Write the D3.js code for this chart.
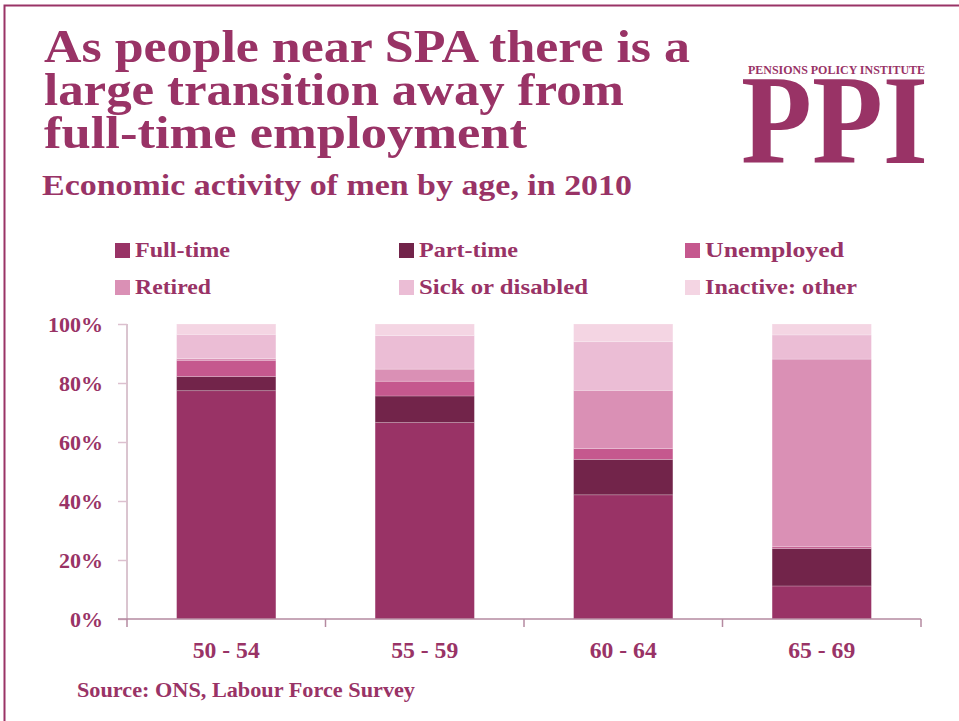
<!DOCTYPE html>
<html>
<head>
<meta charset="utf-8">
<script src="https://cdn.jsdelivr.net/npm/d3@7"></script>
<style>
  body { margin: 0; background: #fff; }
  svg { display: block; }
  text { font-family: "Liberation Serif", "DejaVu Serif", serif; font-weight: bold; fill: #993366; }
</style>
</head>
<body>
<svg id="chart" width="959" height="721"></svg>
<script>
// age groups and the share of men in each activity (percent)
const ages = ["50 - 54", "55 - 59", "60 - 64", "65 - 69"];
const series = ["Full-time", "Part-time", "Unemployed", "Retired", "Sick or disabled", "Inactive: other"];
const fullTime = [77.4, 66.6, 42.1, 11.2];
const partTime = [4.8, 9.0, 12.0, 12.7];
const unemployed = [5.5, 5.0, 3.7, 0.6];
const retired = [0.6, 4.1, 19.7, 63.6];
const sick = [8.2, 11.4, 16.5, 8.2];
const inactiveOther = [3.5, 3.9, 6.0, 3.7];
const yTicks = [0, 20, 40, 60, 80, 100];
const colors = ["#993366", "#72244a", "#c5588e", "#da90b5", "#ebbdd5", "#f4d5e3"];

const valueRows = [fullTime, partTime, unemployed, retired, sick, inactiveOther];
const table = ages.map((a, i) => {
  const row = { age: a };
  series.forEach((s, j) => row[s] = valueRows[j][i]);
  return row;
});

const svg = d3.select("#chart");
const margin = { top: 324, left: 127, right: 38, bottom: 102 };
const width = 959 - margin.left - margin.right;
const height = 721 - margin.top - margin.bottom;

// frame
svg.append("rect")
  .attr("x", 4.5).attr("y", 5.5)
  .attr("width", 1000).attr("height", 1000)
  .attr("fill", "none").attr("stroke", "#993366").attr("stroke-width", 2);

// titles
const titleLines = ["As people near SPA there is a", "large transition away from", "full-time employment"];
const titleWidths = [646, 580, 483];
titleLines.forEach((t, i) => {
  svg.append("text")
    .attr("x", 44).attr("y", 62 + i * 43)
    .attr("textLength", titleWidths[i]).attr("lengthAdjust", "spacingAndGlyphs")
    .style("font-size", "46px")
    .text(t);
});
svg.append("text")
  .attr("x", 42).attr("y", 195)
  .attr("textLength", 590).attr("lengthAdjust", "spacingAndGlyphs")
  .style("font-size", "30px")
  .text("Economic activity of men by age, in 2010");

// logo
svg.append("text")
  .attr("x", 748).attr("y", 74)
  .attr("textLength", 177).attr("lengthAdjust", "spacingAndGlyphs")
  .style("font-size", "13px")
  .text("PENSIONS POLICY INSTITUTE");
svg.append("text")
  .attr("x", 741).attr("y", 163)
  .attr("textLength", 187).attr("lengthAdjust", "spacingAndGlyphs")
  .style("font-size", "128px")
  .text("PPI");

// legend
const legendCols = [115, 399, 685];
const legendWidths = [95, 99, 139, 76, 169, 152];
const legend = svg.append("g");
series.forEach((s, i) => {
  const col = i % 3, row = Math.floor(i / 3);
  const lx = legendCols[col];
  const base = 257 + row * 37;
  legend.append("rect")
    .attr("x", lx).attr("y", base - 14)
    .attr("width", 15).attr("height", 15)
    .attr("fill", colors[i]);
  legend.append("text")
    .attr("x", lx + 20).attr("y", base)
    .attr("textLength", legendWidths[i]).attr("lengthAdjust", "spacingAndGlyphs")
    .style("font-size", "22px")
    .text(s);
});

const g = svg.append("g").attr("transform", `translate(${margin.left},${margin.top})`);

const x = d3.scaleBand().domain(ages).range([0, width]).paddingInner(0.5).paddingOuter(0.25);
const y = d3.scaleLinear().domain([0, 100]).range([height, 0]);

const layers = d3.stack().keys(series)(table);

g.selectAll("g.layer")
  .data(layers)
  .join("g")
  .attr("class", "layer")
  .attr("fill", (d, i) => colors[i])
  .selectAll("rect")
  .data(d => d)
  .join("rect")
  .attr("x", d => x(d.data.age))
  .attr("width", x.bandwidth())
  .attr("y", d => y(d[1]))
  .attr("height", d => y(d[0]) - y(d[1]))
  .attr("stroke", "#fff")
  .attr("stroke-opacity", 0.25)
  .attr("stroke-width", 0.8);

const axisColor = "#b58aa0";

// y axis
const yAxis = g.append("g")
  .call(d3.axisLeft(y).tickValues(yTicks).tickSize(9).tickFormat(d => d + "%"));
yAxis.select(".domain").attr("stroke", axisColor).attr("d", `M0,0V${height}`);
yAxis.selectAll(".tick line").attr("stroke", "#dcc0cf").attr("stroke-width", 1.5);
yAxis.selectAll(".tick text")
  .attr("x", -24)
  .style("font-size", "22px")
  .style("font-family", "Liberation Serif, serif")
  .attr("fill", "#993366");

// x axis
const xAxis = g.append("g").attr("transform", `translate(0,${height})`)
  .call(d3.axisBottom(x).tickSize(0).tickPadding(23));
xAxis.select(".domain").attr("stroke", axisColor).attr("stroke-width", 1.5).attr("d", `M-9,0H${width}`);
xAxis.selectAll(".tick text")
  .attr("textLength", 67).attr("lengthAdjust", "spacingAndGlyphs")
  .style("font-size", "23px")
  .style("font-family", "Liberation Serif, serif")
  .attr("fill", "#993366");
g.append("g").attr("transform", `translate(0,${height})`)
  .selectAll("line")
  .data(d3.range(ages.length + 1))
  .join("line")
  .attr("x1", i => i * x.step())
  .attr("x2", i => i * x.step())
  .attr("y1", 0).attr("y2", 8)
  .attr("stroke", axisColor).attr("stroke-width", 1.5);

// source
svg.append("text")
  .attr("x", 77).attr("y", 697)
  .attr("textLength", 338).attr("lengthAdjust", "spacingAndGlyphs")
  .style("font-size", "22px")
  .text("Source: ONS, Labour Force Survey");
</script>
</body>
</html>
